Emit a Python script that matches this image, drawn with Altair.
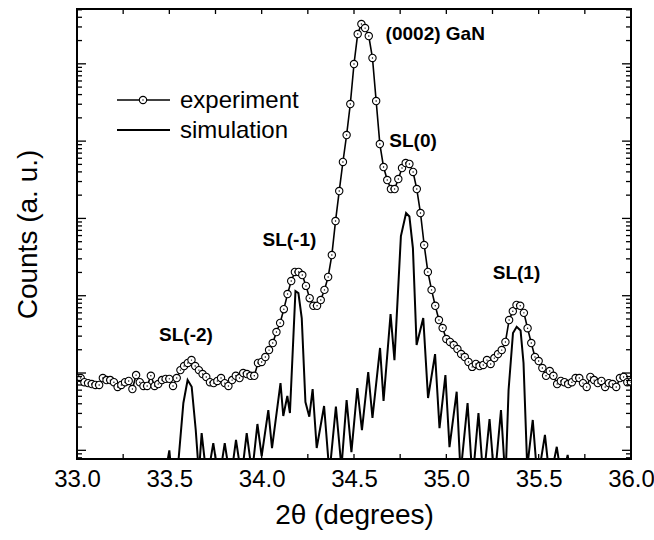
import altair as alt
import pandas as pd

# ---------------- data ----------------
exp_x = [33.00, 33.02, 33.04, 33.06, 33.08, 33.10, 33.12, 33.14, 33.16, 33.18,
         33.20, 33.22, 33.24, 33.26, 33.28, 33.30, 33.32, 33.34, 33.36, 33.38,
         33.40, 33.42, 33.44, 33.46, 33.48, 33.50, 33.52, 33.54, 33.56, 33.58,
         33.60, 33.62, 33.64, 33.66, 33.68, 33.70, 33.72, 33.74, 33.76, 33.78,
         33.80, 33.82, 33.84, 33.86, 33.88, 33.90, 33.92, 33.94, 33.96, 33.98,
         34.00, 34.02, 34.04, 34.06, 34.08, 34.10, 34.12, 34.14, 34.16, 34.18,
         34.20, 34.22, 34.24, 34.26, 34.28, 34.30, 34.32, 34.34, 34.36, 34.38,
         34.40, 34.42, 34.44, 34.46, 34.48, 34.50, 34.52, 34.54, 34.56, 34.58,
         34.60, 34.62, 34.64, 34.66, 34.68, 34.70, 34.72, 34.74, 34.76, 34.78,
         34.80, 34.82, 34.84, 34.86, 34.88, 34.90, 34.92, 34.94, 34.96, 34.98,
         35.00, 35.02, 35.04, 35.06, 35.08, 35.10, 35.12, 35.14, 35.16, 35.18,
         35.20, 35.22, 35.24, 35.26, 35.28, 35.30, 35.32, 35.34, 35.36, 35.38,
         35.40, 35.42, 35.44, 35.46, 35.48, 35.50, 35.52, 35.54, 35.56, 35.58,
         35.60, 35.62, 35.64, 35.66, 35.68, 35.70, 35.72, 35.74, 35.76, 35.78,
         35.80, 35.82, 35.84, 35.86, 35.88, 35.90, 35.92, 35.94, 35.96, 35.98,
         36.00]
exp_y = [8.6, 8.6, 7.6, 7.4, 7.2, 7.0, 7.0, 8.6, 8.1, 8.1,
         7.6, 6.6, 7.0, 7.6, 7.9, 6.2, 9.4, 7.6, 6.8, 6.8,
         9.2, 6.8, 7.2, 8.1, 8.4, 8.4, 6.8, 8.6, 10.9, 12.3,
         13.5, 14.7, 12.3, 10.9, 9.7, 8.9, 7.6, 7.4, 7.9, 8.6,
         7.4, 6.8, 8.1, 9.2, 8.6, 10.0, 9.7, 9.2, 9.2, 13.5,
         13.9, 16.1, 19.8, 24.4, 33.9, 44.4, 67, 105, 155, 203,
         203, 185, 134, 93, 74, 74, 88, 119, 175, 336,
         925, 2260, 5370, 12000, 30200, 99400, 243000, 327000, 290000, 229000,
         119000, 33000, 9170, 4620, 3140, 2400, 2400, 3230, 4490, 5210,
         5060, 3990, 2400, 1175, 453, 203, 119, 74, 48.5, 38.2,
         27.5, 25.2, 23.0, 20.4, 17.6, 16.1, 13.9, 12.0, 13.1, 12.3,
         12.7, 14.7, 13.1, 15.6, 17.6, 19.8, 25.2, 48.5, 63, 76,
         74, 60, 38, 24.4, 16.1, 14.3, 11.6, 9.2, 10.6, 9.2,
         7.2, 7.9, 7.6, 7.2, 7.6, 8.6, 8.6, 7.4, 6.6, 8.9,
         8.1, 7.4, 7.9, 6.6, 7.4, 7.2, 6.6, 8.6, 8.9, 7.6,
         7.6]

sim_x = [33.45, 33.50, 33.52, 33.54, 33.576, 33.599, 33.621, 33.643, 33.66, 33.675,
         33.704, 33.738, 33.769, 33.80, 33.831, 33.861, 33.891, 33.919, 33.948, 33.977,
         34.0, 34.036, 34.056, 34.102, 34.117, 34.139, 34.153, 34.183, 34.199, 34.217,
         34.237, 34.258, 34.276, 34.298, 34.338, 34.367, 34.402, 34.432, 34.46, 34.486,
         34.518, 34.543, 34.577, 34.60, 34.641, 34.66, 34.698, 34.719, 34.754, 34.782,
         34.80, 34.819, 34.839, 34.875, 34.901, 34.939, 34.963, 34.995, 35.017, 35.056,
         35.077, 35.115, 35.142, 35.174, 35.201, 35.234, 35.261, 35.296, 35.32, 35.337,
         35.361, 35.381, 35.402, 35.418, 35.438, 35.468, 35.494, 35.534, 35.561, 35.598,
         35.626, 35.657, 35.686]
sim_y = [0.2, 1.0, 0.3, 0.4, 4.1, 8.1, 6.65, 1.83, 0.5, 1.67,
         0.4, 1.24, 0.4, 1.24, 0.4, 1.36, 0.45, 1.67, 0.5, 2.19,
         0.84, 3.32, 1.07, 7.42, 2.78, 5.04, 3.04, 115, 108, 51.5,
         4.22, 2.72, 6.21, 1.07, 3.74, 0.5, 3.69, 0.6, 4.48, 0.95,
         6.4, 1.83, 10.3, 2.62, 21.1, 4.34, 58, 14.7, 592, 1175,
         1059, 414, 23, 51.5, 4.75, 17.6, 1.94, 9.42, 1.1, 5.73,
         0.5, 4.09, 0.4, 3.04, 0.4, 2.54, 0.4, 3.32, 0.4, 6.03,
         32.9, 39.7, 35.5, 13.5, 0.6, 2.47, 0.4, 1.58, 0.4, 1.11,
         0.4, 0.87, 0.3]

x_tick_values = [33.0, 33.25, 33.5, 33.75, 34.0, 34.25, 34.5, 34.75,
                 35.0, 35.25, 35.5, 35.75, 36.0]
x_label_values = [33.0, 33.5, 34.0, 34.5, 35.0, 35.5, 36.0]
y_major = [1, 10, 100, 1000, 10000, 100000]
y_minor = [0.8, 0.9,
           2, 3, 4, 5, 6, 7, 8, 9,
           20, 30, 40, 50, 60, 70, 80, 90,
           200, 300, 400, 500, 600, 700, 800, 900,
           2000, 3000, 4000, 5000, 6000, 7000, 8000, 9000,
           20000, 30000, 40000, 50000, 60000, 70000, 80000, 90000,
           200000, 300000, 400000, 500000]

ann_text = ["(0002) GaN", "SL(0)", "SL(-1)", "SL(-2)", "SL(1)"]
ann_x = [34.94, 34.82, 34.15, 33.59, 35.38]
ann_y = [243000, 10000, 526, 31, 197]

legend_labels = ["experiment", "simulation"]

# ---------------- chart ----------------
W, H = 554, 450
FONT = "Liberation Sans"
PT_SIZE = 54

x_scale = alt.Scale(domain=[33.0, 36.0], nice=False, zero=False)
y_scale = alt.Scale(type="log", domain=[0.772, 512000], nice=False)

x_enc = alt.X("x:Q", scale=x_scale,
              axis=alt.Axis(values=x_label_values, format=".1f", title="2θ (degrees)",
                            ticks=False, tickSize=0, domain=False, grid=False,
                            labelFontSize=24, labelPadding=8, labelFlush=False,
                            labelOverlap=False, labelColor="black", labelFont=FONT,
                            titleFontSize=28, titleFontWeight="normal", titlePadding=10,
                            titleColor="black", titleFont=FONT))
y_enc = alt.Y("y:Q", scale=y_scale,
              axis=alt.Axis(labels=False, ticks=False, tickSize=0, domain=False, grid=False,
                            title="Counts (a. u.)", titleFontSize=28,
                            titleFontWeight="normal", titlePadding=35,
                            titleColor="black", titleFont=FONT))

exp_df = pd.DataFrame({"x": exp_x, "y": exp_y})
sim_df = pd.DataFrame({"x": sim_x, "y": sim_y})

sim_line = alt.Chart(sim_df).mark_line(color="black", strokeWidth=2, clip=True).encode(
    x=x_enc, y=y_enc)
exp_line = alt.Chart(exp_df).mark_line(color="black", strokeWidth=1.6, clip=True).encode(
    x=x_enc, y=y_enc)
exp_pts = alt.Chart(exp_df).mark_circle(color="white", stroke="black", strokeWidth=1.1,
                                        size=PT_SIZE, opacity=1, clip=True).encode(
    x=x_enc, y=y_enc)
exp_dots = alt.Chart(exp_df).mark_circle(color="black", size=2, opacity=1, clip=True).encode(
    x=x_enc, y=y_enc)

xt = pd.DataFrame({"x": x_tick_values})
ymaj = pd.DataFrame({"y": y_major})
ymin = pd.DataFrame({"y": y_minor})

tick_layers = [
    alt.Chart(xt).mark_rule(color="black", strokeWidth=1.3).encode(
        x=x_enc, y=alt.value(H), y2=alt.value(H - 5)),
    alt.Chart(xt).mark_rule(color="black", strokeWidth=1.3).encode(
        x=x_enc, y=alt.value(0), y2=alt.value(5)),
    alt.Chart(ymaj).mark_rule(color="black", strokeWidth=1.3).encode(
        y=y_enc, x=alt.value(0), x2=alt.value(9)),
    alt.Chart(ymaj).mark_rule(color="black", strokeWidth=1.3).encode(
        y=y_enc, x=alt.value(W), x2=alt.value(W - 9)),
    alt.Chart(ymin).mark_rule(color="black", strokeWidth=1.3, clip=True).encode(
        y=y_enc, x=alt.value(0), x2=alt.value(5)),
    alt.Chart(ymin).mark_rule(color="black", strokeWidth=1.3, clip=True).encode(
        y=y_enc, x=alt.value(W), x2=alt.value(W - 5)),
]

ann_df = pd.DataFrame({"x": ann_x, "y": ann_y, "label": ann_text})
ann = alt.Chart(ann_df).mark_text(font=FONT, fontSize=19, fontWeight="bold", color="black",
                                  align="center", baseline="middle").encode(
    x=x_enc, y=y_enc, text="label:N")

# legend (drawn by hand, top-left)
leg1 = pd.DataFrame({"label": [legend_labels[0]]})
leg2 = pd.DataFrame({"label": [legend_labels[1]]})
legend_layers = [
    alt.Chart(leg1).mark_rule(color="black", strokeWidth=1.6).encode(
        x=alt.value(40), x2=alt.value(93), y=alt.value(91)),
    alt.Chart(leg1).mark_circle(color="white", stroke="black", strokeWidth=1.1, size=PT_SIZE,
                                opacity=1).encode(x=alt.value(66), y=alt.value(91)),
    alt.Chart(leg1).mark_circle(color="black", size=2, opacity=1).encode(
        x=alt.value(66), y=alt.value(91)),
    alt.Chart(leg1).mark_text(font=FONT, fontSize=24, color="black", align="left",
                              baseline="middle").encode(
        x=alt.value(103), y=alt.value(92), text="label:N"),
    alt.Chart(leg2).mark_rule(color="black", strokeWidth=2).encode(
        x=alt.value(40), x2=alt.value(93), y=alt.value(121)),
    alt.Chart(leg2).mark_text(font=FONT, fontSize=24, color="black", align="left",
                              baseline="middle").encode(
        x=alt.value(103), y=alt.value(122), text="label:N"),
]

chart = alt.layer(sim_line, exp_line, exp_pts, exp_dots, *tick_layers, ann,
                  *legend_layers).properties(
    width=W, height=H,
    autosize=alt.AutoSizeParams(type="none"),
    padding={"left": 77, "top": 9, "right": 23, "bottom": 81},
    background="white",
).configure_view(stroke="black", strokeWidth=2)

chart.save("out.html", embed_options={"renderer": "svg", "actions": False})
